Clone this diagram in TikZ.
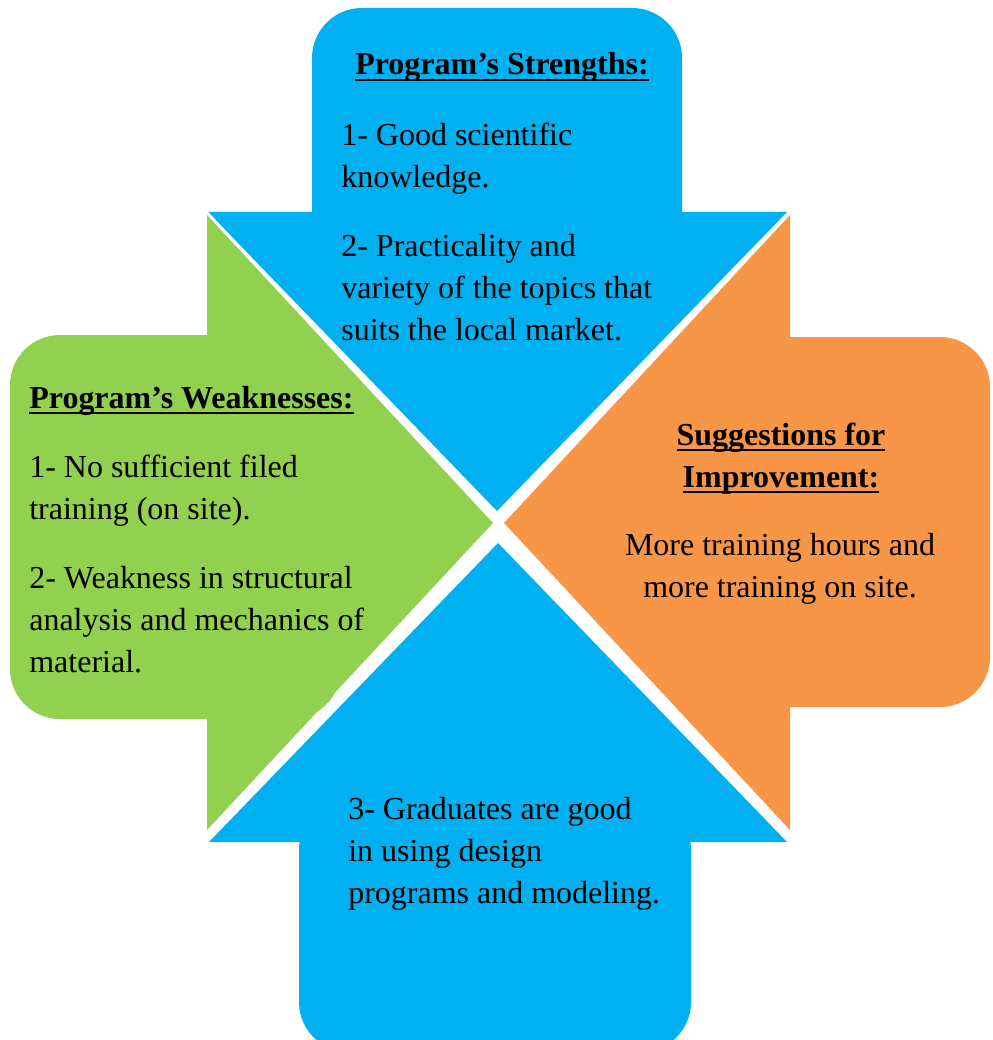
\documentclass[tikz,border=0pt]{standalone}
\usepackage{fontspec}
\setmainfont{Liberation Serif}
\usepackage{tikz}
\definecolor{skyblue}{HTML}{00B0F0}
\definecolor{leafgreen}{HTML}{92D050}
\definecolor{softorange}{HTML}{F79646}
\newsavebox{\headbox}
\newcommand{\head}[1]{\sbox{\headbox}{\textbf{#1}}\rlap{\rule[-3.6pt]{\wd\headbox}{1.6pt}}\usebox{\headbox}} % bold with a thick underline
\tikzset{
    cut/.style={draw=white, line width=0.12cm}, % white edge that separates the arrows
    txt/.style={inner sep=0pt, align=left, font=\fontsize{18.2}{23.9}\selectfont}, % every text block, placed by its last baseline
}

\begin{document}
\begin{tikzpicture}[x=0.02cm, y=-0.02cm] % one unit is one pixel, y goes down
\useasboundingbox (0,0) rectangle (992,1040);
% top arrow
\draw[cut, rounded corners=1cm] (312,8) rectangle (682,260);
\draw[cut] (208,212) -- (787,212) -- (497,511) -- cycle;
\fill[skyblue, rounded corners=1cm] (312,8) rectangle (682,260);
\fill[skyblue] (208,212) -- (787,212) -- (497,511) -- cycle;
% right arrow
\draw[cut, rounded corners=1cm] (720,337) rectangle (990,707);
\draw[cut] (790,215) -- (790,830) -- (504,523) -- cycle;
\fill[softorange, rounded corners=1cm] (720,337) rectangle (990,707);
\fill[softorange] (790,215) -- (790,830) -- (504,523) -- cycle;
% bottom arrow
\draw[cut, rounded corners=1cm] (299,800) rectangle (691,1052);
\draw[cut] (209,842) -- (787,842) -- (498,543) -- cycle;
\fill[skyblue, rounded corners=1cm] (299,800) rectangle (691,1052);
\fill[skyblue] (209,842) -- (787,842) -- (498,543) -- cycle;
% left arrow
\draw[cut, rounded corners=1cm] (10,335) rectangle (341,719);
\draw[cut] (207,215) -- (207,830) -- (493,523) -- cycle;
\fill[leafgreen, rounded corners=1cm] (10,335) rectangle (341,719);
\fill[leafgreen] (207,215) -- (207,830) -- (493,523) -- cycle;

\node[txt, anchor=base] (strengths-title) at (502,75) {\head{Program’s Strengths:}};
\node[txt, anchor=base west] (strengths) at (341,340) {1- Good scientific\\knowledge.\\[0.54cm]2- Practicality and\\variety of the topics that\\suits the local market.};
\node[txt, anchor=base west] (weak-title) at (29,408) {\head{Program’s Weaknesses:}};
\node[txt, anchor=base west] (weak) at (29,672) {1- No sufficient filed\\training (on site).\\[0.54cm]2- Weakness in structural\\analysis and mechanics of\\material.};
\node[txt, align=center, anchor=base] (improve-title) at (781,487) {\head{Suggestions for}\\\head{Improvement:}};
\node[txt, align=center, anchor=base] (improve) at (780,597) {More training hours and\\more training on site.};
\node[txt, anchor=base west] (graduates) at (348,903) {3- Graduates are good\\in using design\\programs and modeling.};
\end{tikzpicture}
\end{document}
